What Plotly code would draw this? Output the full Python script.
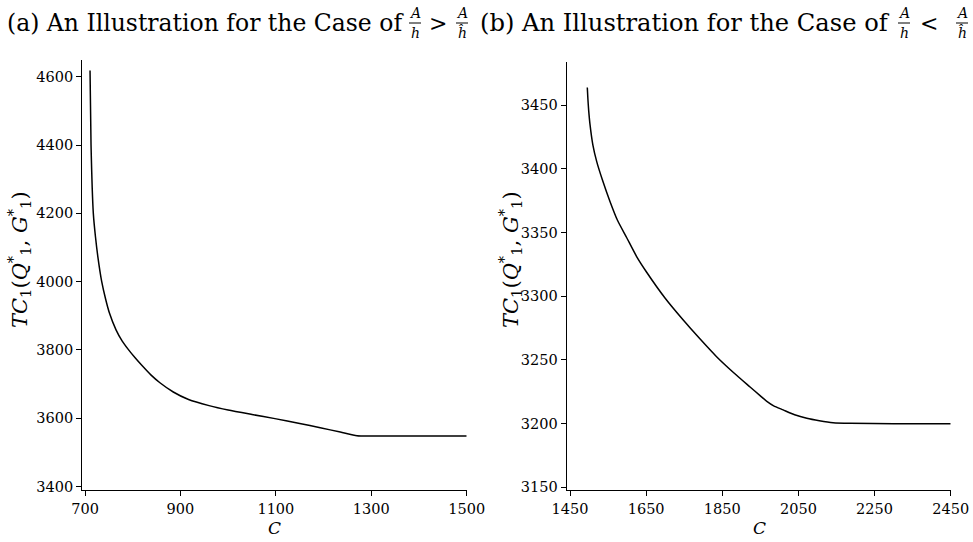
import plotly.graph_objects as go

# ---------------- data ----------------
c_a = [710.5, 712.6, 717.4, 722, 727, 735, 743, 751, 765, 778, 791, 805, 819, 838,
       857, 885, 917, 960, 1000, 1050, 1098, 1150, 1193, 1235, 1270, 1300, 1400, 1500]
tc_a = [4618, 4400, 4200, 4130, 4072, 4000, 3950, 3909, 3859, 3826, 3801, 3777, 3755, 3727,
        3704, 3677, 3655, 3637, 3624, 3611, 3599, 3585, 3572, 3560, 3549, 3548, 3548, 3548]

c_b = [1495.4, 1497, 1499, 1502.5, 1510, 1520, 1535, 1555, 1575, 1599, 1625, 1650, 1700,
       1748, 1790, 1835, 1880, 1923, 1950, 1967, 1985, 2010, 2040, 2072, 2105, 2141, 2186,
       2300, 2450]
tc_b = [3464, 3455, 3446, 3435, 3419, 3406, 3391.5, 3374.5, 3359.5, 3346, 3331.2, 3319.5,
        3298.5, 3281.2, 3267, 3252.6, 3240, 3228.8, 3221.8, 3217.5, 3214, 3210.8, 3207,
        3204.2, 3202.3, 3200.8, 3200.3, 3200, 3200]

xt_a = [700, 900, 1100, 1300, 1500]
yt_a = [3400, 3600, 3800, 4000, 4200, 4400, 4600]
xt_b = [1450, 1650, 1850, 2050, 2250, 2450]
yt_b = [3150, 3200, 3250, 3300, 3350, 3400, 3450]

title_a = "(a) An Illustration for the Case of"
title_b = "(b) An Illustration for the Case of"
x_title = "C"
y_title = "<i>TC</i><sub>1</sub>(<i>Q</i><sup>*</sup><sub>1</sub>, <i>G</i><sup>*</sup><sub>1</sub>)"

# ---------------- figure ----------------
W, H = 973, 542
FONT = "DejaVu Serif"


def px(x):
    return x / W


def py(y):
    return 1 - y / H


fig = go.Figure()
fig.add_trace(go.Scatter(x=c_a, y=tc_a, mode="lines",
                         line=dict(color="black", width=1.5, shape="spline", smoothing=0.6),
                         xaxis="x", yaxis="y", showlegend=False, hoverinfo="skip"))
fig.add_trace(go.Scatter(x=c_b, y=tc_b, mode="lines",
                         line=dict(color="black", width=1.5, shape="spline", smoothing=0.6),
                         xaxis="x2", yaxis="y2", showlegend=False, hoverinfo="skip"))

ax = dict(showgrid=False, zeroline=False, showline=True, linecolor="black", linewidth=1.3,
          ticks="outside", ticklen=5, tickwidth=1.3, tickcolor="black", automargin=False,
          tickfont=dict(family=FONT, size=14.5, color="black"))

fig.update_layout(
    width=W, height=H, margin=dict(l=0, r=0, t=0, b=0, autoexpand=False),
    plot_bgcolor="white", paper_bgcolor="white",
    xaxis=dict(domain=[px(82.3), px(466.7)], range=[694.3, 1500], tickvals=xt_a,
               anchor="y", **ax),
    yaxis=dict(domain=[py(490), py(60)], range=[3390, 4649], tickvals=yt_a,
               anchor="x", **ax),
    xaxis2=dict(domain=[px(566.7), px(950.7)], range=[1441.3, 2450], tickvals=xt_b,
                anchor="y2", **ax),
    yaxis2=dict(domain=[py(490), py(62)], range=[3147.9, 3484], tickvals=yt_b,
                anchor="x2", **ax),
)

ann = []
shapes = []


def text(x, y, s, size, xanchor="center", angle=0, italic=False):
    ann.append(dict(x=px(x), y=py(y), xref="paper", yref="paper", text=s, showarrow=False,
                    xanchor=xanchor, yanchor="middle", textangle=angle,
                    font=dict(family=FONT, size=size, color="black",
                              style="italic" if italic else "normal")))


def frac(xc, den):
    text(xc, 13, "A", 14, italic=True)
    text(xc, 33, den, 14, italic=True)
    shapes.append(dict(type="line", xref="paper", yref="paper", x0=px(xc - 6), x1=px(xc + 6),
                       y0=py(23), y1=py(23), line=dict(color="black", width=1)))


# titles
text(5, 23, title_a, 23.5, xanchor="left")
frac(415, "h")
text(438, 24, "&gt;", 22)
frac(462, "ĥ")
text(478, 23, title_b, 24.2, xanchor="left")
frac(904, "h")
text(929, 24, "&lt;", 22)
frac(962, "ĥ")

# axis titles
text(274, 528, x_title, 17, italic=True)
text(759, 528, x_title, 17, italic=True)
text(19, 260, y_title, 21, angle=-90)
text(510, 260, y_title, 21, angle=-90)

fig.update_layout(annotations=ann, shapes=shapes)
fig.write_html("out.html")
